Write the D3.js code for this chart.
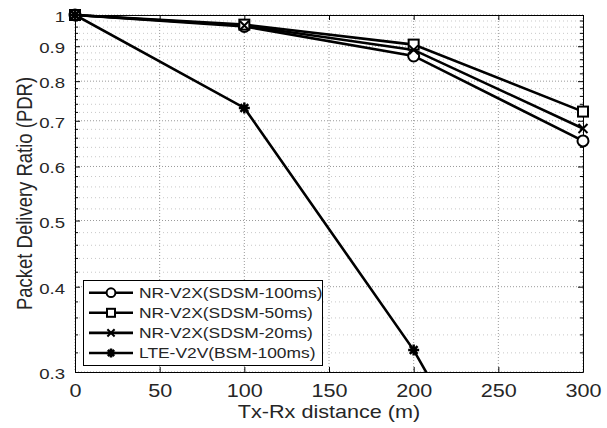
<!DOCTYPE html>
<html>
<head>
<meta charset="utf-8">
<script src="https://cdn.jsdelivr.net/npm/d3@7"></script>
<style>
  body { margin: 0; background: #fff; }
  svg { font-family: "Liberation Sans", Arial, sans-serif; }
</style>
</head>
<body>
<svg id="chart" width="607" height="428"></svg>
<script>
// data
var distances = [0, 100, 200, 300];
var sdsm100 = [1, 0.962, 0.871, 0.654];
var sdsm50 = [1, 0.968, 0.905, 0.722];
var sdsm20 = [1, 0.965, 0.889, 0.682];
var lte100 = [1, 0.731, 0.323, 0.118];

var seriesNames = ['NR-V2X(SDSM-100ms)', 'NR-V2X(SDSM-50ms)', 'NR-V2X(SDSM-20ms)', 'LTE-V2V(BSM-100ms)'];
var seriesMarkers = ['circle', 'square', 'cross', 'star'];
var seriesValues = [sdsm100, sdsm50, sdsm20, lte100];

var xTicks = [0, 50, 100, 150, 200, 250, 300];
var yTicks = [0.3, 0.4, 0.5, 0.6, 0.7, 0.8, 0.9, 1];
var yMinor = d3.range(0.32, 1.0, 0.02).map(function(d) { return +d.toFixed(2); })
    .filter(function(d) { return Math.abs(d * 10 - Math.round(d * 10)) > 1e-6; });

var svg = d3.select('#chart');
var pL = 75, pR = 583, pT = 15, pB = 372;
var stretch = 1.2; // the figure's text is a bit wide

var x = d3.scaleLinear().domain([0, 300]).range([pL, pR]);
var y = d3.scaleLog().domain([0.3, 1]).range([pB, pT]);

var textCol = '#262626';

// scale text horizontally around its own anchor point
function widen(sel, f) {
    sel.each(function() {
        var t = d3.select(this);
        var tx = +t.attr('x') || 0;
        t.attr('x', tx / f).attr('transform', 'scale(' + f + ',1)');
    });
}

// grid
var grid = svg.append('g');
grid.selectAll('.minor').data(yMinor).enter().append('line')
    .attr('x1', pL).attr('x2', pR)
    .attr('y1', function(d) { return y(d); }).attr('y2', function(d) { return y(d); })
    .attr('stroke', '#c8c8c8').attr('stroke-width', 1).attr('stroke-dasharray', '1,3');
grid.selectAll('.majy').data(yTicks).enter().append('line')
    .attr('x1', pL).attr('x2', pR)
    .attr('y1', function(d) { return y(d); }).attr('y2', function(d) { return y(d); })
    .attr('stroke', '#9a9a9a').attr('stroke-width', 1).attr('stroke-dasharray', '1,2');
grid.selectAll('.majx').data(xTicks).enter().append('line')
    .attr('y1', pT).attr('y2', pB)
    .attr('x1', function(d) { return x(d); }).attr('x2', function(d) { return x(d); })
    .attr('stroke', '#9a9a9a').attr('stroke-width', 1).attr('stroke-dasharray', '1,2');

// axes
var fmt = function(d) { return d === 1 ? '1' : d3.format('.1f')(d); };
var yAxisL = d3.axisLeft(y).tickValues(yTicks).tickFormat(fmt).tickSizeInner(-5).tickSizeOuter(0).tickPadding(10);
var yAxisR = d3.axisRight(y).tickValues(yTicks).tickFormat('').tickSizeInner(-5).tickSizeOuter(0);
var xAxisB = d3.axisBottom(x).tickValues(xTicks).tickSizeInner(-5).tickSizeOuter(0).tickPadding(12);
var xAxisT = d3.axisTop(x).tickValues(xTicks).tickFormat('').tickSizeInner(-5).tickSizeOuter(0);

function styleAxis(g) {
    g.select('.domain').attr('stroke', '#000').attr('stroke-width', 1);
    g.selectAll('.tick line').attr('stroke', '#000');
    g.selectAll('.tick text').attr('fill', textCol);
}
var gyl = svg.append('g').attr('transform', 'translate(' + pL + ',0)').call(yAxisL).call(styleAxis);
gyl.selectAll('.tick text').style('font-size', '15.5px').attr('dy', '0.42em').call(widen, stretch);
svg.append('g').attr('transform', 'translate(' + pR + ',0)').call(yAxisR).call(styleAxis);
var gxb = svg.append('g').attr('transform', 'translate(0,' + pB + ')').call(xAxisB).call(styleAxis);
gxb.selectAll('.tick text').style('font-size', '18px').call(widen, stretch);
svg.append('g').attr('transform', 'translate(0,' + pT + ')').call(xAxisT).call(styleAxis);

// minor ticks left/right
[[pL, 3], [pR, -3]].forEach(function(p) {
    svg.append('g').selectAll('line').data(yMinor).enter().append('line')
        .attr('x1', p[0]).attr('x2', p[0] + p[1])
        .attr('y1', function(d) { return y(d); }).attr('y2', function(d) { return y(d); })
        .attr('stroke', '#000');
});

var line = d3.line()
    .x(function(d, i) { return x(distances[i]); })
    .y(function(d) { return y(d); });

function drawMarker(g, type, cx, cy, s) {
    if (type === 'circle') {
        g.append('circle').attr('cx', cx).attr('cy', cy).attr('r', s)
            .attr('fill', '#fff').attr('stroke', '#000').attr('stroke-width', 2);
    } else if (type === 'square') {
        g.append('rect').attr('x', cx - s).attr('y', cy - s).attr('width', 2 * s).attr('height', 2 * s)
            .attr('fill', '#fff').attr('stroke', '#000').attr('stroke-width', 2);
    } else if (type === 'cross') {
        g.append('path').attr('d', 'M' + (cx - s) + ',' + (cy - s) + 'L' + (cx + s) + ',' + (cy + s) +
            'M' + (cx - s) + ',' + (cy + s) + 'L' + (cx + s) + ',' + (cy - s))
            .attr('stroke', '#000').attr('stroke-width', 2);
    } else {
        var d = '';
        for (var k = 0; k < 4; k++) {
            var a = k * Math.PI / 4;
            d += 'M' + (cx - s * Math.cos(a)) + ',' + (cy - s * Math.sin(a)) + 'L' + (cx + s * Math.cos(a)) + ',' + (cy + s * Math.sin(a));
        }
        g.append('path').attr('d', d).attr('stroke', '#000').attr('stroke-width', 2.5);
        g.append('circle').attr('cx', cx).attr('cy', cy).attr('r', s * 0.55).attr('fill', '#000');
    }
}

var sizes = { circle: 5.5, square: 5, cross: 4.5, star: 5.5 };

// lines clipped to the axes box, markers drawn on top
svg.append('clipPath').attr('id', 'lclip').append('rect')
    .attr('x', pL).attr('y', pT - 3).attr('width', pR - pL + 3).attr('height', pB - pT + 3);
var lines = svg.append('g').attr('clip-path', 'url(#lclip)');
var marks = svg.append('g');

seriesValues.forEach(function(vals) {
    lines.append('path').datum(vals).attr('d', line)
        .attr('fill', 'none').attr('stroke', '#000').attr('stroke-width', 2.6);
});
seriesValues.forEach(function(vals, si) {
    vals.forEach(function(v, i) {
        if (v < 0.3) return;
        drawMarker(marks, seriesMarkers[si], x(distances[i]), y(v), sizes[seriesMarkers[si]]);
    });
});

// legend
var lg = svg.append('g');
lg.append('rect').attr('x', 83.5).attr('y', 280.5).attr('width', 239).attr('height', 85)
    .attr('fill', '#fff').attr('stroke', '#000').attr('stroke-width', 1);
seriesNames.forEach(function(name, i) {
    var ly = 292.7 + i * 20.1;
    lg.append('line').attr('x1', 89).attr('x2', 133).attr('y1', ly).attr('y2', ly)
        .attr('stroke', '#000').attr('stroke-width', 2.6);
    drawMarker(lg, seriesMarkers[i], 111, ly, sizes[seriesMarkers[i]] * 0.8);
    lg.append('g').attr('transform', 'translate(139,' + (ly + 5.3) + ')')
        .append('text').text(name)
        .attr('fill', textCol).style('font-size', '14.5px').call(widen, stretch);
});

// axis labels
svg.append('g').attr('transform', 'translate(' + ((pL + pR) / 2) + ',418)')
    .append('text').attr('text-anchor', 'middle')
    .attr('fill', textCol).style('font-size', '18px').text('Tx-Rx distance (m)').call(widen, stretch);
svg.append('text').attr('transform', 'translate(32,' + ((pT + pB) / 2) + ') scale(' + stretch + ',1) rotate(-90)')
    .attr('text-anchor', 'middle').attr('fill', textCol).style('font-size', '18.5px')
    .text('Packet Delivery Ratio (PDR)');
</script>
</body>
</html>
